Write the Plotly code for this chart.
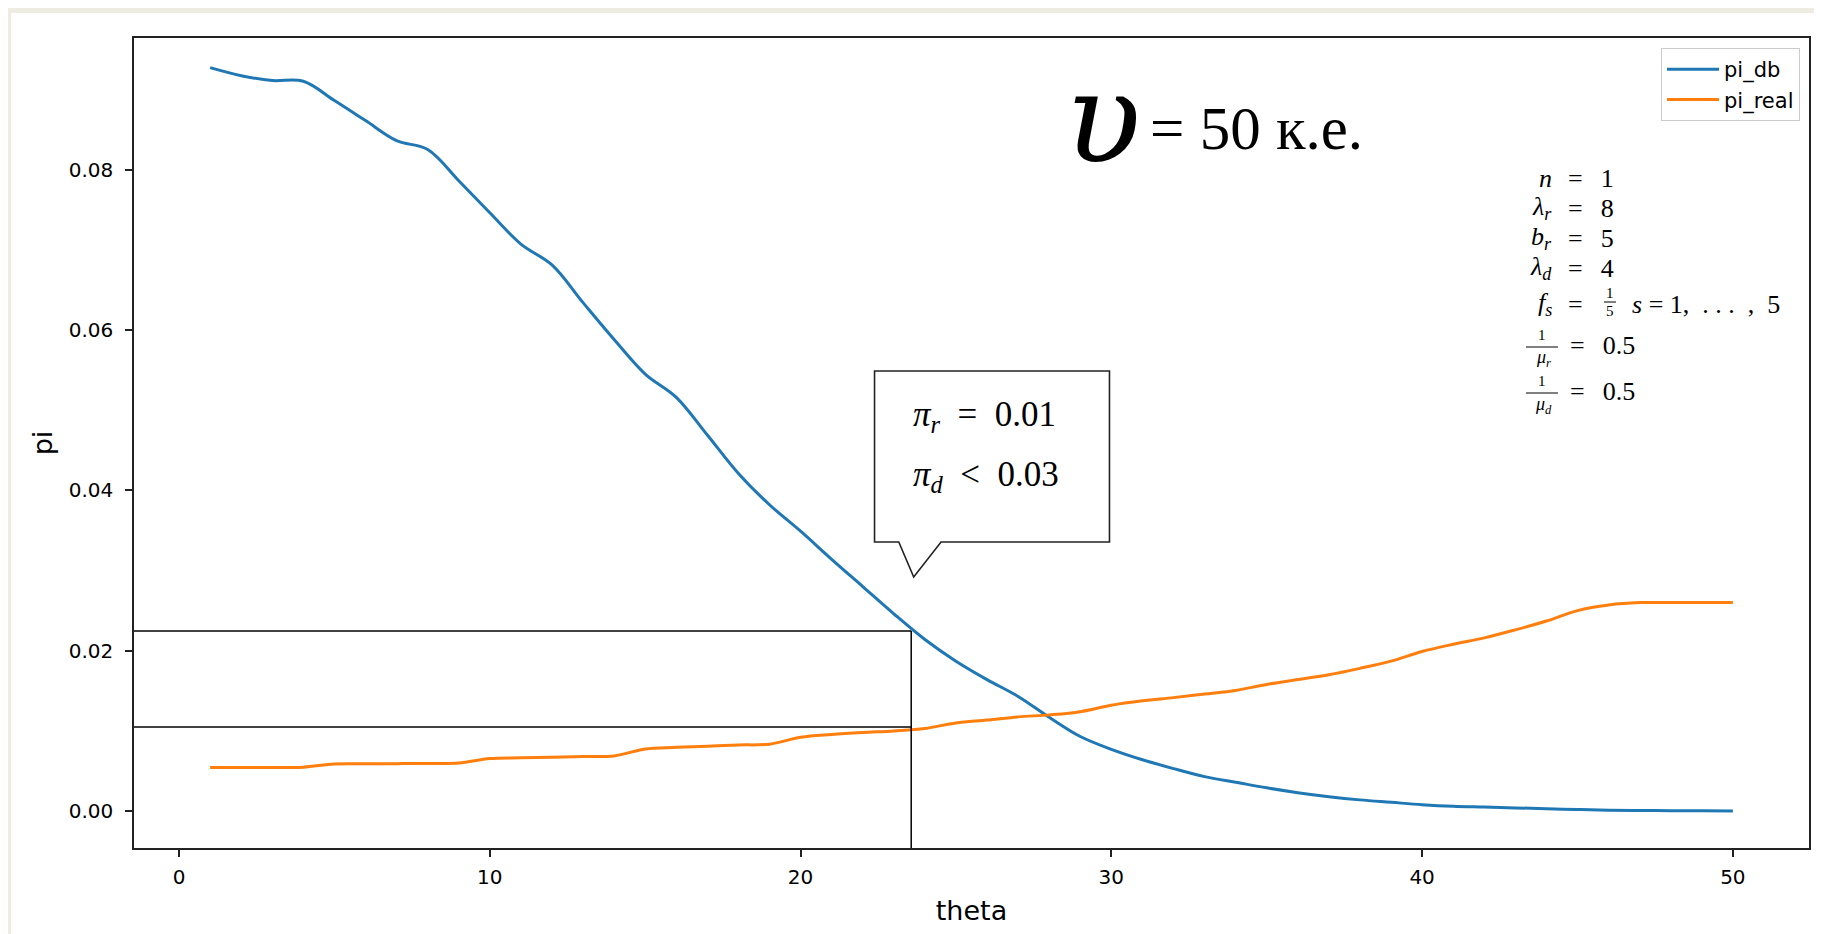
import plotly.graph_objects as go

# ---------------- data ----------------
theta = list(range(1, 51))
pi_db = [0.0927, 0.0917, 0.0911, 0.0910, 0.0886, 0.0861, 0.0836, 0.0825, 0.0786, 0.0746,
         0.0707, 0.0681, 0.0634, 0.0588, 0.0545, 0.0516, 0.0469, 0.0421, 0.0382, 0.0349,
         0.0314, 0.0280, 0.0246, 0.0214, 0.0187, 0.0164, 0.0143, 0.0117, 0.0093, 0.0077,
         0.0064, 0.0053, 0.0043, 0.0036, 0.0029, 0.0023, 0.0018, 0.0014, 0.0011, 0.0008,
         0.0006, 0.0005, 0.0004, 0.0003, 0.0002, 0.00012, 0.00008, 0.00005, 0.00003, 0.00002]
pi_real = [0.00545, 0.00545, 0.00543, 0.00548, 0.00588, 0.00590, 0.00592, 0.00595, 0.00600, 0.00655,
           0.00665, 0.00672, 0.00680, 0.00688, 0.00775, 0.00795, 0.00810, 0.00825, 0.00835, 0.00920,
           0.00955, 0.00980, 0.01000, 0.01030, 0.01100, 0.01135, 0.01175, 0.01200, 0.01240, 0.01320,
           0.01375, 0.01415, 0.01460, 0.01505, 0.01580, 0.01640, 0.01700, 0.01780, 0.01870, 0.01990,
           0.02080, 0.02160, 0.02260, 0.02370, 0.02500, 0.02570, 0.02600, 0.02600, 0.02600, 0.02600]
series_names = ["pi_db", "pi_real"]
x_ticks = [0, 10, 20, 30, 40, 50]
y_ticks = [0.00, 0.02, 0.04, 0.06, 0.08]
y_tick_labels = ["0.00", "0.02", "0.04", "0.06", "0.08"]

theta_mark = 23.56
pi_db_mark = 0.02245
pi_real_mark = 0.0105

# ---------------- layout geometry ----------------
W, H = 1822, 934
L, R, T, B = 126, 21, 30, 94
PW, PH = W - L - R, H - T - B
X_RANGE = [-1.45, 52.45]
Y_RANGE = [-0.0046, 0.0964]


def px(xp):
    return (xp - L) / PW


def py(yp):
    return (H - B - yp) / PH


SERIF = "Liberation Serif, Times New Roman, serif"
DSERIF = "DejaVu Serif, serif"
SANS = "DejaVu Sans, sans-serif"
BLUE = "#1f77b4"
ORANGE = "#ff7f0e"
BEIGE = "#eeebe1"
EN, THIN = "\u2002", "\u2009"

fig = go.Figure()
fig.add_trace(go.Scatter(x=theta, y=pi_db, mode="lines", name=series_names[0],
                         line=dict(color=BLUE, width=3, shape="spline", smoothing=1.0)))
fig.add_trace(go.Scatter(x=theta, y=pi_real, mode="lines", name=series_names[1],
                         line=dict(color=ORANGE, width=3, shape="spline", smoothing=1.0)))

shapes = []
# beige page border (top & left)
shapes.append(dict(type="rect", xref="paper", yref="paper", x0=px(0), x1=px(W), y0=py(0), y1=py(5),
                   fillcolor=BEIGE, line=dict(width=0), layer="above"))
shapes.append(dict(type="rect", xref="paper", yref="paper", x0=px(0), x1=px(3), y0=py(0), y1=py(H),
                   fillcolor=BEIGE, line=dict(width=0), layer="above"))
# reference lines
shapes.append(dict(type="line", xref="x", yref="y", x0=X_RANGE[0], x1=theta_mark,
                   y0=pi_db_mark, y1=pi_db_mark, line=dict(color="black", width=1.5)))
shapes.append(dict(type="line", xref="x", yref="y", x0=X_RANGE[0], x1=theta_mark,
                   y0=pi_real_mark, y1=pi_real_mark, line=dict(color="black", width=1.5)))
shapes.append(dict(type="line", xref="x", yref="y", x0=theta_mark, x1=theta_mark,
                   y0=Y_RANGE[0], y1=pi_db_mark, line=dict(color="black", width=1.5)))
# callout box
cx0, cx1, cy0, cy1 = 22.38, 29.94, 0.03356, 0.05487
path = (f"M {cx0},{cy1} L {cx1},{cy1} L {cx1},{cy0} L 24.52,{cy0} "
        f"L 23.64,0.02919 L 23.16,{cy0} L {cx0},{cy0} Z")
shapes.append(dict(type="path", xref="x", yref="y", path=path, fillcolor="white",
                   line=dict(color="#222222", width=1.6), layer="above"))

annotations = []


def ann(text, x, y, size, xanchor="left", yanchor="middle", family=SERIF):
    annotations.append(dict(text=text, x=px(x), y=py(y), xref="paper", yref="paper",
                            showarrow=False, xanchor=xanchor, yanchor=yanchor,
                            font=dict(family=family, size=size, color="black")))


# big label
ann("<i>υ</i>", 1095, 110, 125, xanchor="center", family=DSERIF)
ann("= 50 к.е.", 1140, 120, 61)

# callout text
ann(f"<i>π</i><sub><i>r</i></sub>{EN}={EN}0.01", 903, 408, 35)
ann(f"<i>π</i><sub><i>d</i></sub>{EN}&lt;{EN}0.03", 903, 468, 35)

# parameter block
lefts = ["<i>n</i>", "<i>λ</i><sub><i>r</i></sub>", "<i>b</i><sub><i>r</i></sub>",
         "<i>λ</i><sub><i>d</i></sub>", "<i>f</i><sub><i>s</i></sub>"]
rights = [f"={EN}{THIN}1", f"={EN}{THIN}8", f"={EN}{THIN}5", f"={EN}{THIN}4", "="]
ys = [170, 200, 230, 260, 296]
for lt, rt, yy in zip(lefts, rights, ys):
    ann(lt, 1546, yy, 26, xanchor="right")
    ann(rt, 1558, yy, 26)
# f_s fraction and s range
ann("1", 1602, 285, 15, xanchor="center")
ann("5", 1602, 303, 15, xanchor="center")
shapes.append(dict(type="line", xref="paper", yref="paper", x0=px(1596), x1=px(1608),
                   y0=py(294), y1=py(294), line=dict(color="black", width=1)))
ann(f"<i>s</i> = 1,{EN}. . .{EN},{EN}5", 1622, 296, 26)
# 1/mu fractions
for sub, yc in (("r", 338), ("d", 384)):
    ann("1", 1534, yc - 11, 15, xanchor="center")
    ann(f"<i>μ</i><sub><i>{sub}</i></sub>", 1535, yc + 13, 18, xanchor="center")
    shapes.append(dict(type="line", xref="paper", yref="paper", x0=px(1518), x1=px(1550),
                       y0=py(yc + 1), y1=py(yc + 1), line=dict(color="black", width=1)))
    ann(f"={EN}{THIN}0.5", 1560, yc, 26)

axis_common = dict(showline=True, mirror=True, linecolor="#222222", linewidth=1.6,
                   ticks="outside", ticklen=7, tickwidth=1.5, tickcolor="#222222",
                   showgrid=False, zeroline=False,
                   tickfont=dict(family=SANS, size=20, color="black"))

fig.update_layout(
    width=W, height=H,
    margin=dict(l=L, r=R, t=T, b=B, autoexpand=False),
    paper_bgcolor="white", plot_bgcolor="white",
    xaxis=dict(range=X_RANGE, tickvals=x_ticks, ticktext=[str(v) for v in x_ticks],
               ticklabelstandoff=3,
               title=dict(text="theta", font=dict(family=SANS, size=27, color="black"), standoff=13),
               **axis_common),
    yaxis=dict(range=Y_RANGE, tickvals=y_ticks, ticktext=y_tick_labels,
               ticklabelstandoff=8,
               title=dict(text="pi", font=dict(family=SANS, size=27, color="black"), standoff=8),
               **axis_common),
    legend=dict(x=px(W - R - 9), y=py(T + 10), xanchor="right", yanchor="top",
                bgcolor="rgba(255,255,255,0.85)", bordercolor="#cccccc", borderwidth=1,
                itemwidth=52, font=dict(family=SANS, size=21, color="black")),
    shapes=shapes,
    annotations=annotations,
    showlegend=True,
)

fig.write_html("out.html")
